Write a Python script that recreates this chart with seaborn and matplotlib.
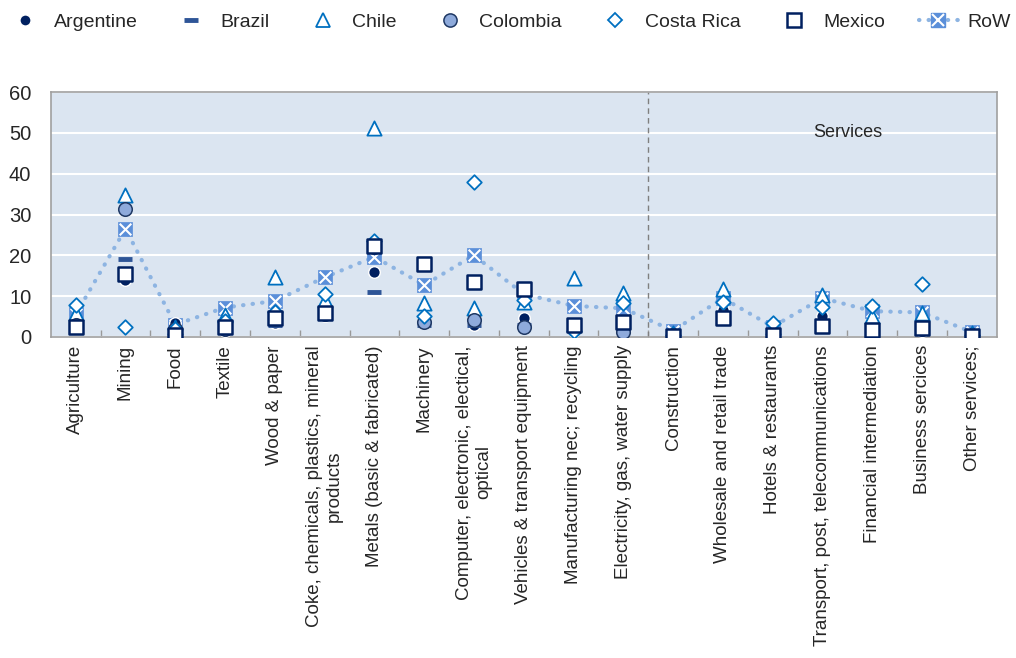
import numpy as np
import pandas as pd
import matplotlib
matplotlib.use('Agg')
import matplotlib.pyplot as plt
import seaborn as sns
from matplotlib.lines import Line2D

categories = ['Agriculture', 'Mining', 'Food', 'Textile', 'Wood & paper',
              'Coke, chemicals, plastics, mineral\nproducts',
              'Metals (basic & fabricated)', 'Machinery',
              'Computer, electronic, electical,\noptical',
              'Vehicles & transport equipment', 'Manufacturing nec; recycling',
              'Electricity, gas, water supply', 'Construction',
              'Wholesale and retail trade', 'Hotels & restaurants',
              'Transport, post, telecommunications', 'Financial intermediation',
              'Business sercices', 'Other services;']

argentine = [3.5, 14.0, 3.4, 1.5, 3.5, 5.0, 16.0, 3.5, 2.8, 4.6, 1.5, 2.0, 0.5, 6.5, 1.0, 5.0, 1.5, 1.5, 0.5]
brazil = [4.0, 19.1, 2.0, 2.0, 3.0, 5.0, 11.0, 3.0, 3.0, 3.0, 2.0, 2.0, 0.5, 5.0, 1.0, 4.0, 2.0, 2.0, 0.5]
chile = [5.8, 34.8, 2.5, 5.4, 14.7, 9.0, 51.2, 8.3, 7.0, 8.5, 14.4, 10.8, 1.0, 11.7, 2.5, 10.3, 5.0, 5.9, 1.0]
colombia = [3.0, 31.3, 2.0, 2.0, 4.6, 5.5, 22.0, 3.7, 4.2, 2.5, 2.0, 1.3, 0.5, 5.0, 1.0, 3.0, 1.5, 2.0, 0.5]
costa_rica = [7.8, 2.5, 2.0, 4.0, 6.0, 10.5, 23.5, 5.0, 38.0, 9.0, 1.5, 8.3, 0.5, 8.6, 3.5, 7.4, 7.6, 13.0, 0.5]
mexico = [2.5, 15.4, 0.5, 2.5, 4.7, 5.9, 22.3, 17.8, 13.5, 11.8, 2.8, 3.6, 0.3, 4.6, 0.5, 2.7, 1.7, 2.3, 0.3]
row = [5.5, 26.5, 3.0, 7.2, 8.8, 14.6, 19.6, 12.7, 20.0, 10.5, 7.6, 7.0, 1.5, 9.5, 2.5, 9.5, 6.3, 6.0, 1.2]

sns.set_theme(style='white')
plt.rcParams['font.family'] = ['Liberation Sans', 'DejaVu Sans']

pos = np.arange(len(categories))
fig, ax = plt.subplots(figsize=(10.16, 6.58), dpi=100)
fig.subplots_adjust(left=0.050, right=0.981, top=0.860, bottom=0.488)
ax.set_facecolor('#dbe5f1')

navy = '#002060'
blue = '#0070c0'
row_fill = '#5b8fd9'
row_line = '#8db4e2'

# RoW: dotted line + square with white cross
sns.lineplot(x=pos, y=row, ax=ax, color=row_line, lw=3, zorder=2,
             linestyle=(0, (0.1, 2.2)), dash_capstyle='round')
sns.scatterplot(x=pos, y=row, ax=ax, marker='s', s=115, color=row_fill,
                edgecolor=row_fill, linewidth=0.5, zorder=3)
sns.scatterplot(x=pos, y=row, ax=ax, marker='x', s=70, color='white',
                linewidth=1.5, zorder=3)

sns.scatterplot(x=pos, y=argentine, ax=ax, marker='o', s=70, color=navy,
                edgecolor='white', linewidth=1, zorder=4)
sns.scatterplot(x=pos, y=brazil, ax=ax, marker='_', s=110, color='#2e5597',
                linewidth=3.5, zorder=5)
sns.scatterplot(x=pos, y=chile, ax=ax, marker='^', s=105, color='white',
                edgecolor=blue, linewidth=1.3, zorder=6)
sns.scatterplot(x=pos, y=colombia, ax=ax, marker='o', s=95, color='#8eaadb',
                edgecolor='#1f3864', linewidth=1.1, zorder=7)
sns.scatterplot(x=pos, y=costa_rica, ax=ax, marker='D', s=55, color='white',
                edgecolor=blue, linewidth=1.3, zorder=8)
sns.scatterplot(x=pos, y=mexico, ax=ax, marker='s', s=100, color='white',
                edgecolor=navy, linewidth=1.8, zorder=9)

ax.axvline(11.5, color='#7f7f7f', lw=1, linestyle=(0, (4, 3)), zorder=1)
ax.text(15.5, 50, 'Services', ha='center', va='center', fontsize=13)

ax.set_xlim(-0.5, len(categories) - 0.5)
ax.set_ylim(0, 60)
ax.set_yticks(range(0, 61, 10))
ax.yaxis.grid(True, color='white', lw=1.5)
ax.set_axisbelow(True)
ax.set_xticks(pos)
ax.set_xticklabels(categories, rotation=90, fontsize=13.5, multialignment='center')
ax.set_xticks(np.arange(0.5, len(categories) - 1, 1), minor=True)
ax.tick_params(axis='x', which='major', length=0, pad=6)
ax.tick_params(axis='x', which='minor', direction='in', length=5, color='#999999', width=1, bottom=True)
ax.tick_params(axis='y', length=0, pad=14, labelsize=14.5)
for s in ax.spines.values():
    s.set_color('#a0a0a0')
    s.set_linewidth(1.2)
ax.set_xlabel('')
ax.set_ylabel('')

handles = [
    Line2D([], [], ls='', marker='o', ms=8, mfc=navy, mec='white', mew=1),
    Line2D([], [], ls='', marker='_', ms=10, mec='#2e5597', mew=3.5),
    Line2D([], [], ls='', marker='^', ms=10, mfc='white', mec=blue, mew=1.3),
    Line2D([], [], ls='', marker='o', ms=9.5, mfc='#8eaadb', mec='#1f3864', mew=1.1),
    Line2D([], [], ls='', marker='D', ms=7.4, mfc='white', mec=blue, mew=1.3),
    Line2D([], [], ls='', marker='s', ms=10, mfc='white', mec=navy, mew=1.8),
    (Line2D([], [], color=row_line, lw=3, ls=(0, (0.1, 2.2)), dash_capstyle='round',
            marker='s', ms=10.7, mfc=row_fill, mec=row_fill),
     Line2D([], [], ls='', marker='x', ms=8.4, mec='white', mew=1.5)),
]
labels = ['Argentine', 'Brazil', 'Chile', 'Colombia', 'Costa Rica', 'Mexico', 'RoW']
fig.legend(handles, labels, loc='upper center', bbox_to_anchor=(0.5, 1.0), ncol=7,
           frameon=False, fontsize=14, columnspacing=1.75, handletextpad=0.5,
           handlelength=2.0, borderaxespad=0.3)

fig.savefig('out.png', dpi=100)
